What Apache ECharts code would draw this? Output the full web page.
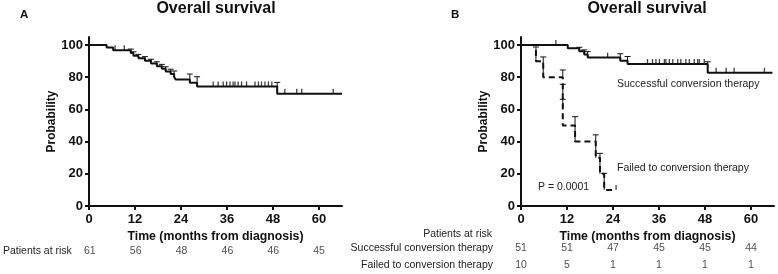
<!DOCTYPE html>
<html>
<head>
<meta charset="utf-8">
<script src="https://cdn.jsdelivr.net/npm/echarts@6/dist/echarts.min.js"></script>
<style>
  html, body { margin: 0; padding: 0; background: #fff; }
  #km { width: 778px; height: 274px; }
</style>
</head>
<body>
<div id="km"></div>
<script>
// ticks
const monthTicks = [0, 12, 24, 36, 48, 60];
const probTicks = [0, 20, 40, 60, 80, 100];

// panel A - all patients, [month, survival %]
const overallSteps = [[0, 100], [4.6, 98.4], [6.3, 96.7], [10.9, 95.1], [11.6, 93.4], [12.9, 91.8],
  [14.6, 90.2], [16.2, 88.5], [17.7, 86.9], [19.0, 85.2], [20.0, 83.6], [21.3, 82.0], [22.2, 80.3],
  [22.6, 78.6], [26.3, 76.5], [28.2, 74.3], [49.1, 69.8], [66, 69.8]];
const overallCensor = [6.8, 9.2, 32.4, 33.7, 35.0, 35.9, 36.8, 37.6, 38.1, 38.9, 39.8, 41.1, 43.3,
  44.2, 45.0, 45.9, 46.8, 47.7, 51.1, 54.2, 55.5, 63.7];
const overallErr = [[10.9, 95.1, 97.5], [11.6, 93.4, 95.8], [12.9, 91.8, 94.2], [14.6, 90.2, 92.8],
  [16.2, 88.5, 91.2], [17.7, 86.9, 89.6], [19.0, 85.2, 88.0], [20.0, 83.6, 86.5], [21.3, 82.0, 85.0],
  [22.2, 80.3, 83.9], [26.3, 76.5, 82.0], [28.2, 74.3, 80.3], [49.1, 69.8, 76.8]];
const overallRisk = [61, 56, 48, 46, 46, 45];

// panel B - successful conversion
const successSteps = [[0, 100], [12.2, 98.0], [15.2, 96.1], [16.5, 94.1], [17.4, 92.2], [25.9, 90.2],
  [27.8, 88.2], [48.7, 82.8], [65.6, 82.8]];
const successCensor = [9.1, 22.6, 33.0, 34.3, 35.2, 36.1, 37.4, 37.8, 38.7, 39.6, 40.9, 41.7, 43.0,
  43.9, 45.2, 46.1, 46.5, 47.8, 50.9, 53.5, 55.6, 63.5];
const successErr = [[15.2, 96.1, 98.6], [16.5, 94.1, 97.0], [17.4, 92.2, 95.9], [25.9, 90.2, 94.6],
  [27.8, 88.2, 92.9], [48.7, 82.8, 89.6]];
const successRisk = [51, 51, 47, 45, 45, 44];

// panel B - failed conversion
const failedSteps = [[0, 100], [3.9, 90], [5.8, 80], [10.9, 50], [14.1, 40], [19.5, 30], [20.6, 20],
  [21.7, 10], [24.8, 10]];
const failedCensor = [24.8];
const failedErr = [[3.9, 90, 98.8], [5.8, 80, 92.6], [10.9, 80, 84.5], [10.9, 70, 75.6], [10.9, 60, 66.3],
  [14.1, 40, 55.5], [19.5, 30, 44.2], [20.6, 20, 32.7], [21.7, 10, 20.3]];
const failedRisk = [10, 5, 1, 1, 1, 1];

const riskRowA = ['Patients at risk'];
const riskRowsB = ['Failed to conversion therapy', 'Successful conversion therapy'];

const FONT = '"Liberation Sans", Arial, sans-serif';
const INK = '#111';

function levelAt(steps, t) {
  let v = steps[0][1];
  for (const s of steps) {
    if (s[0] <= t) v = s[1];
  }
  return v;
}

function renderErr(params, api) {
  const hi = api.coord([api.value(0), api.value(2)]);
  const lo = api.coord([api.value(0), api.value(1)]);
  const st = { stroke: INK, lineWidth: 1 };
  return {
    type: 'group',
    children: [
      { type: 'line', shape: { x1: hi[0], y1: hi[1], x2: lo[0], y2: lo[1] }, style: st },
      { type: 'line', shape: { x1: hi[0] - 3, y1: hi[1], x2: hi[0] + 3, y2: hi[1] }, style: st }
    ]
  };
}

function plotX(idx) {
  return {
    gridIndex: idx, type: 'value', min: 0, max: 66,
    splitLine: { show: false },
    axisLine: { lineStyle: { color: INK, width: 2 } },
    axisTick: { customValues: monthTicks, length: 4, lineStyle: { color: INK, width: 2 } },
    axisLabel: { customValues: monthTicks, margin: 7, color: INK, fontSize: 13, fontWeight: 'bold', fontFamily: FONT },
    name: 'Time (months from diagnosis)', nameLocation: 'middle', nameGap: 17,
    nameTextStyle: { color: INK, fontSize: 12.3, fontWeight: 'bold', fontFamily: FONT }
  };
}

function plotY(idx) {
  return {
    gridIndex: idx, type: 'value', min: 0, max: 105,
    splitLine: { show: false },
    axisLine: { show: true, lineStyle: { color: INK, width: 2 } },
    axisTick: { show: true, customValues: probTicks, length: 4, lineStyle: { color: INK, width: 2 } },
    axisLabel: { customValues: probTicks, margin: 6, color: INK, fontSize: 13, fontWeight: 'bold', fontFamily: FONT },
    name: 'Probability', nameLocation: 'middle', nameGap: 31,
    nameTextStyle: { color: INK, fontSize: 12, fontWeight: 'bold', fontFamily: FONT }
  };
}

function riskX(idx) {
  return { gridIndex: idx, type: 'value', min: 0, max: 66, show: false };
}

function riskY(idx, rows, margin) {
  return {
    gridIndex: idx, type: 'category', data: rows,
    axisLine: { show: false }, axisTick: { show: false }, splitLine: { show: false },
    axisLabel: { margin: margin, color: '#222', fontSize: 10.5, fontFamily: FONT }
  };
}

function curve(name, steps, g, dashed) {
  return {
    name: name, type: 'line', xAxisIndex: g, yAxisIndex: g, step: 'end',
    showSymbol: false, silent: true, data: steps,
    lineStyle: { color: INK, width: 2, type: dashed ? [6, 4] : 'solid' }
  };
}

function censor(steps, times, g) {
  return {
    type: 'scatter', xAxisIndex: g, yAxisIndex: g, silent: true,
    symbol: 'rect', symbolSize: [1.3, 5], symbolOffset: [0, -2.5],
    itemStyle: { color: INK },
    data: times.map(t => [t, levelAt(steps, t)])
  };
}

function errBars(data, g) {
  return { type: 'custom', xAxisIndex: g, yAxisIndex: g, silent: true, renderItem: renderErr, encode: { x: 0, y: [1, 2] }, data: data };
}

function risk(counts, row, g) {
  return {
    type: 'scatter', xAxisIndex: g, yAxisIndex: g, silent: true, symbolSize: 0,
    data: counts.map((n, i) => [monthTicks[i], row, n]),
    encode: { x: 0, y: 1 },
    label: { show: true, position: 'inside', formatter: p => p.value[2], color: '#222', fontSize: 10.5, fontFamily: FONT }
  };
}

const chart = echarts.init(document.getElementById('km'));
chart.setOption({
  animation: false,
  backgroundColor: '#fff',
  title: [
    { text: 'Overall survival', left: 216, top: 1, textAlign: 'center', padding: 0,
      textStyle: { fontSize: 16, fontWeight: 'bold', color: INK, fontFamily: FONT } },
    { text: 'Overall survival', left: 647, top: 1, textAlign: 'center', padding: 0,
      textStyle: { fontSize: 16, fontWeight: 'bold', color: INK, fontFamily: FONT } },
    { text: 'A', left: 20, top: 9, padding: 0, textStyle: { fontSize: 11.5, fontWeight: 'bold', color: INK, fontFamily: FONT } },
    { text: 'B', left: 451, top: 9, padding: 0, textStyle: { fontSize: 11.5, fontWeight: 'bold', color: INK, fontFamily: FONT } }
  ],
  grid: [
    { left: 89, top: 37, width: 253, height: 169 },
    { left: 521, top: 37, width: 253, height: 169 },
    { left: 89, top: 243, width: 253, height: 16 },
    { left: 521, top: 239, width: 253, height: 36 }
  ],
  xAxis: [plotX(0), plotX(1), riskX(2), riskX(3)],
  yAxis: [plotY(0), plotY(1), riskY(2, riskRowA, 18), riskY(3, riskRowsB, 28)],
  graphic: [
    { type: 'text', left: 617, top: 79, style: { text: 'Successful conversion therapy', fontSize: 10.5, fontFamily: FONT, fill: '#222' } },
    { type: 'text', left: 617, top: 163, style: { text: 'Failed to conversion therapy', fontSize: 10.5, fontFamily: FONT, fill: '#222' } },
    { type: 'text', left: 538, top: 182, style: { text: 'P = 0.0001', fontSize: 10.5, fontFamily: FONT, fill: '#222' } },
    { type: 'text', right: 286, top: 229, style: { text: 'Patients at risk', fontSize: 10.5, fontFamily: FONT, fill: '#222' } }
  ],
  series: [
    curve('All patients', overallSteps, 0, false),
    censor(overallSteps, overallCensor, 0),
    errBars(overallErr, 0),
    curve('Successful conversion therapy', successSteps, 1, false),
    censor(successSteps, successCensor, 1),
    errBars(successErr, 1),
    curve('Failed to conversion therapy', failedSteps, 1, true),
    censor(failedSteps, failedCensor, 1),
    errBars(failedErr, 1),
    risk(overallRisk, riskRowA[0], 2),
    risk(successRisk, riskRowsB[1], 3),
    risk(failedRisk, riskRowsB[0], 3)
  ]
});
</script>
</body>
</html>
